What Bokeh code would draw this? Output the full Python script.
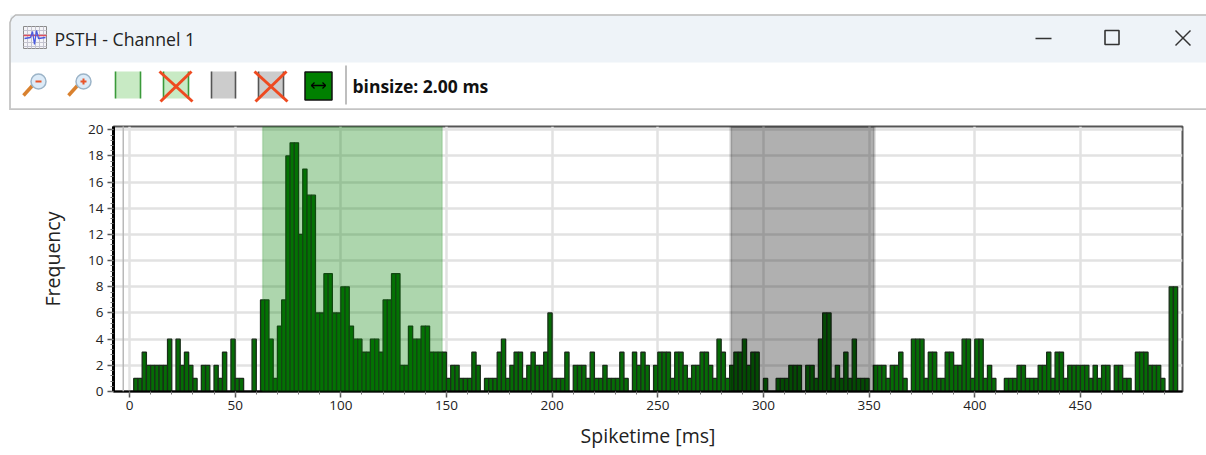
from bokeh.embed import file_html
from bokeh.resources import INLINE
from bokeh.plotting import figure
from bokeh.layouts import column
from bokeh.models import Range1d, SingleIntervalTicker, BoxAnnotation
from bokeh.core.properties import value

title_text = "PSTH - Channel 1"
binsize_text = "binsize: 2.00 ms"
x_label = "Spiketime [ms]"
y_label = "Frequency"
bin_ms = 2
counts = [
    0,1,1,3,2,2,2,2,2,4,
    0,4,2,3,2,1,0,2,2,0,
    2,1,3,0,4,1,1,0,0,4,
    0,7,7,4,1,5,7,18,19,19,
    12,17,15,15,6,6,9,9,6,6,
    8,8,5,4,4,3,3,4,4,3,
    7,7,9,9,2,2,5,4,4,5,
    5,3,3,3,3,1,2,2,1,1,
    1,3,2,0,1,1,1,3,4,1,
    2,3,3,1,2,3,2,2,3,6,
    1,1,1,3,0,2,2,2,1,3,
    1,1,2,1,1,1,3,1,0,3,
    2,3,2,0,2,3,3,3,1,3,
    3,2,1,2,2,3,3,2,1,4,
    3,1,2,3,3,4,2,3,3,0,
    1,0,0,1,1,1,2,2,2,0,
    2,2,1,4,6,6,1,2,1,3,
    1,4,1,1,1,0,2,2,2,1,
    2,2,3,1,0,4,4,4,1,3,
    3,1,1,3,3,2,2,4,4,1,
    4,4,1,2,1,0,0,1,1,1,
    2,2,1,1,1,2,2,3,1,3,
    3,1,2,2,2,2,2,1,2,1,
    2,2,0,2,2,1,1,0,3,3,
    3,2,2,2,1,0,8,8,
]
green_window = (63, 148)
gray_window = (284.5, 352.5)

FONT = "Open Sans"

# ---------- window chrome, in reference pixel coordinates ----------
hdr = figure(width=1206, height=110, x_range=Range1d(0, 1206), y_range=Range1d(110, 0),
             x_axis_location=None, y_axis_location=None, toolbar_location=None,
             output_backend="svg", min_border=0)
hdr.frame_align = False
hdr.grid.visible = False
hdr.outline_line_color = None

hdr.quad(left=[10], right=[1206], top=[15], bottom=[62], fill_color="#eef3f8", line_color=None)
hdr.line([9.5, 9.5, 11, 15, 1206], [110, 22, 18, 14.5, 14.5], line_color="#b9b9b9", line_width=1.5)
hdr.line([10, 1206], [109, 109], line_color="#c4c4c4", line_width=2.5)

# title icon
hdr.quad(left=[23], right=[46], top=[26], bottom=[48], fill_color="#f4f4f8", line_color="#8a8a8a", line_width=1)
for gx in (27, 31, 35, 39, 43):
    hdr.line([gx, gx], [26, 48], line_color="#c4c4d0", line_width=1)
for gy in (30, 34, 42, 46):
    hdr.line([23, 46], [gy, gy], line_color="#c4c4d0", line_width=1)
hdr.line([23, 46], [35, 35], line_color="#e05060", line_width=1.5)
hdr.line([24, 30, 32, 34, 36, 38, 45], [38, 37, 31, 44, 30, 38, 37], line_color="#4a5ae0", line_width=1.3)
hdr.text(x=[54], y=[38], text=[title_text], text_font=value(FONT), text_font_size="17.7px",
         text_color="#222222", text_baseline="middle")

# window controls
hdr.line([1035, 1051], [38, 38], line_color="#333333", line_width=1.6)
hdr.quad(left=[1104.5], right=[1118.5], top=[30], bottom=[44], fill_color=None, line_color="#333333", line_width=1.6)
hdr.line([1175, 1190], [30, 45], line_color="#333333", line_width=1.5)
hdr.line([1190, 1175], [30, 45], line_color="#333333", line_width=1.5)

# toolbar: zoom icons
for (cx, sym) in ((38, "-"), (83, "+")):
    hdr.line([cx - 15, cx - 6], [95, 85], line_color="#d9812e", line_width=3.5)
    hdr.scatter([cx], [81], size=15, fill_color="#dcebf8", line_color="#9cb4c8", line_width=1.5)
    hdr.line([cx - 3, cx + 3], [81, 81], line_color="#e8552a", line_width=2)
    if sym == "+":
        hdr.line([cx, cx], [78, 84], line_color="#e8552a", line_width=2)

# toolbar: window buttons
for (x0, x1, fill, edge) in ((115, 140, "#c8eac4", "#3a9a3a"), (163, 188, "#c8eac4", "#3a9a3a"),
                             (211, 235, "#cccccc", "#555555"), (258, 283, "#cccccc", "#555555")):
    hdr.quad(left=[x0], right=[x1], top=[71], bottom=[98], fill_color=fill, line_color=None)
    hdr.line([x0, x0], [71, 98], line_color=edge, line_width=1.6)
    hdr.line([x1, x1], [71, 98], line_color=edge, line_width=1.6)
for (x0, x1) in ((159, 192), (254, 287)):
    hdr.line([x0, x1], [71, 101], line_color="#ee4a20", line_width=3)
    hdr.line([x1 - 1, x0 + 1], [71, 101], line_color="#ee4a20", line_width=3)

hdr.quad(left=[304.5], right=[331.5], top=[71.5], bottom=[99.5], fill_color="#008000", line_color="#111111", line_width=1.5)
hdr.line([311, 325], [85, 85], line_color="black", line_width=1.3)
hdr.line([314, 311, 314], [82, 85, 88], line_color="black", line_width=1.3)
hdr.line([322, 325, 322], [82, 85, 88], line_color="black", line_width=1.3)
hdr.line([345.5, 345.5], [65, 104], line_color="#a8a8a8", line_width=1.5)
hdr.text(x=[352], y=[85], text=[binsize_text], text_font=value(FONT), text_font_size="17.5px",
         text_font_style="bold", text_color="#111111", text_baseline="middle")

# ---------- histogram ----------
edges = [i * bin_ms for i in range(len(counts) + 1)]

p = figure(width=1206, height=345, frame_width=1069, frame_height=265,
           x_range=Range1d(-7.57, 498.3), y_range=Range1d(0, 20.25),
           toolbar_location=None, output_backend="svg",
           min_border_left=113, min_border_right=24, min_border_top=16, min_border_bottom=64,
           x_axis_label=x_label, y_axis_label=y_label)
p.frame_align = False

p.background_fill_color = "white"
p.outline_line_color = "#555555"
p.outline_line_width = 2

p.xaxis.ticker = SingleIntervalTicker(interval=50, num_minor_ticks=5)
p.yaxis.ticker = SingleIntervalTicker(interval=2, num_minor_ticks=5)
for ax in (p.xaxis[0], p.yaxis[0]):
    ax.major_tick_in = 0
    ax.minor_tick_in = 0
    ax.major_tick_out = 6
    ax.minor_tick_out = 3
    ax.major_tick_line_color = "#555555"
    ax.minor_tick_line_color = "#777777"
    ax.major_tick_line_width = 1.5
    ax.axis_line_color = "black"
    ax.major_label_text_font = FONT
    ax.major_label_text_font_size = "13.5px"
    ax.major_label_text_color = "#222222"
    ax.axis_label_text_font = FONT
    ax.axis_label_text_font_size = "19.5px"
    ax.axis_label_text_font_style = "normal"
    ax.axis_label_text_color = "#222222"
p.xaxis[0].axis_line_width = 2
p.yaxis[0].axis_line_width = 3
p.xaxis[0].major_label_standoff = 3
p.yaxis[0].major_label_standoff = 4
p.xaxis[0].axis_label_standoff = 9
p.yaxis[0].axis_label_standoff = 19

p.xgrid[0].grid_line_color = "#e2e2e2"
p.xgrid[0].grid_line_width = 2.5
p.ygrid[0].grid_line_color = "#e2e2e2"
p.ygrid[0].grid_line_width = 2.5

p.quad(left=edges[:-1], right=edges[1:], bottom=0, top=counts,
       fill_color="#056c05", line_color="#1a2e1a", line_width=1.3)

p.add_layout(BoxAnnotation(left=green_window[0], right=green_window[1],
                           fill_color="#008000", fill_alpha=0.32,
                           line_color="#008000", line_alpha=0.15, line_width=1.5))
p.add_layout(BoxAnnotation(left=gray_window[0], right=gray_window[1],
                           fill_color="#000000", fill_alpha=0.31,
                           line_color="#000000", line_alpha=0.12, line_width=3))
# left window border
p.add_layout(BoxAnnotation(left=9, right=10.5, top=0, bottom=345,
                           left_units="screen", right_units="screen",
                           top_units="screen", bottom_units="screen",
                           fill_color="#b9b9b9", fill_alpha=1, line_color=None))

layout = column(hdr, p, spacing=0)
open("out.html", "w").write(file_html(layout, INLINE))
